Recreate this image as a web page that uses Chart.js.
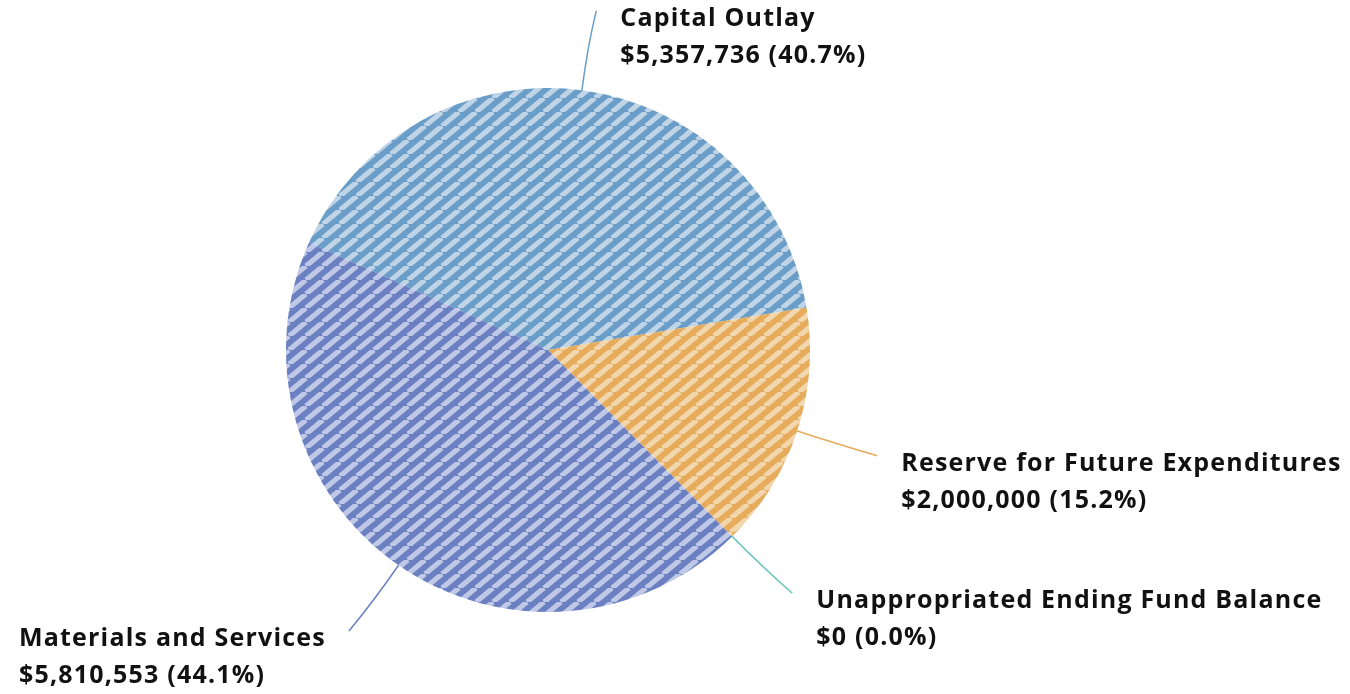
<!DOCTYPE html>
<html>
<head>
<meta charset="utf-8">
<script src="https://cdn.jsdelivr.net/npm/chart.js@4.4.1/dist/chart.umd.min.js"></script>
<style>
  html, body { margin: 0; padding: 0; background: #fff; }
  #wrap { width: 1350px; height: 694px; }
</style>
</head>
<body>
<div id="wrap"><canvas id="budgetPie" width="1350" height="694"></canvas></div>
<script>
// Data
const categories = ['Capital Outlay', 'Reserve for Future Expenditures', 'Unappropriated Ending Fund Balance', 'Materials and Services'];
const amounts = [5357736, 2000000, 0, 5810553];
const baseColors = ['#6a9dc7', '#e6ac5b', '#6fc7ba', '#6b80c1'];
const stripeColors = ['#bfd4e6', '#f2d7ae', '#c8ece6', '#c0c8e7'];

// diagonal stripe fill (tile slightly wider than tall -> ~40deg stripes)
function stripes(dark, light) {
    const w = 17, h = 14;
    const c = document.createElement('canvas');
    c.width = w; c.height = h;
    const g = c.getContext('2d');
    g.fillStyle = dark;
    g.fillRect(0, 0, w, h);
    g.strokeStyle = light;
    g.lineWidth = 5.2;
    for (let k = -1; k <= 1; k++) {
        g.beginPath();
        g.moveTo(k * w, h);
        g.lineTo(k * w + w, 0);
        g.stroke();
    }
    return g.createPattern(c, 'repeat');
}

const fills = baseColors.map((c, i) => stripes(c, stripeColors[i]));
const total = amounts.reduce((a, b) => a + b, 0);

// leader lines + labels
const labelPlugin = {
    id: 'pieLabels',
    afterDraw(chart) {
        const ctx = chart.ctx;
        const arcs = chart.getDatasetMeta(0).data;
        arcs.forEach((arc, i) => {
            const mid = (arc.startAngle + arc.endAngle) / 2;
            const r = arc.outerRadius;
            const cos = Math.cos(mid), sin = Math.sin(mid);
            const sx = arc.x + cos * r, sy = arc.y + sin * r;
            const ex = arc.x + cos * (r + 80), ey = arc.y + sin * (r + 80);
            const cx = arc.x + cos * (r + 45), cy = arc.y + sin * (r + 45);
            const right = cos >= 0;
            ctx.save();
            ctx.strokeStyle = baseColors[i];
            ctx.lineWidth = 1.5;
            ctx.beginPath();
            ctx.moveTo(sx, sy);
            ctx.quadraticCurveTo(cx, cy, ex + (right ? 4 : -4), ey);
            ctx.stroke();

            const pct = (amounts[i] / total * 100).toFixed(1);
            const line2 = '$' + amounts[i].toLocaleString('en-US') + ' (' + pct + '%)';
            ctx.fillStyle = '#111';
            ctx.font = 'bold 25px "Open Sans"';
            ctx.letterSpacing = '1.2px';
            ctx.textBaseline = 'middle';
            ctx.textAlign = 'left';
            const bw = Math.max(ctx.measureText(categories[i]).width, ctx.measureText(line2).width);
            const tx = right ? ex + 28 : ex - 27 - bw;
            ctx.fillText(categories[i], tx, ey + 8);
            ctx.fillText(line2, tx, ey + 45);
            ctx.restore();
        });
    }
};

new Chart(document.getElementById('budgetPie'), {
    type: 'pie',
    data: {
        labels: categories,
        datasets: [{
            data: amounts,
            backgroundColor: fills,
            borderWidth: 0
        }]
    },
    options: {
        responsive: false,
        animation: false,
        rotation: -65.8,
        layout: { padding: { top: 88, bottom: 82, left: 286, right: 540 } },
        plugins: {
            legend: { display: false },
            tooltip: { enabled: false }
        }
    },
    plugins: [labelPlugin]
});
</script>
</body>
</html>
